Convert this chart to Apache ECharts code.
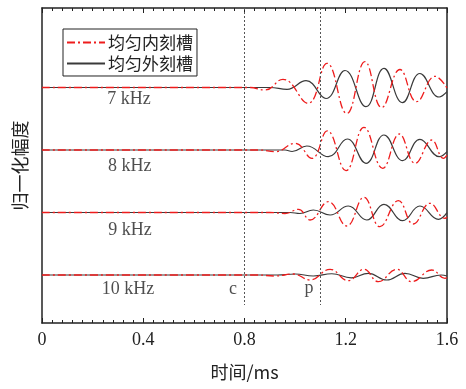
<!DOCTYPE html>
<html><head><meta charset="utf-8">
<script src="https://cdn.jsdelivr.net/npm/echarts@6/dist/echarts.min.js"></script>
<style>html,body{margin:0;padding:0;background:#fff}#c{width:466px;height:389px}</style>
</head><body><div id="c"></div>
<script>
// x-axis range / ticks (ms)
const xMin = 0, xMax = 1.6, xStep = 0.4;
// vertical range (trace spacing = 1 unit)
const yMin = 0.232, yMax = 5.272;
const freqLabels = ['7 kHz', '8 kHz', '9 kHz', '10 kHz'];
const offsets = [4, 3, 2, 1];
const labelPos = [[0.344, 3.816], [0.347, 2.744], [0.348, 1.72], [0.34, 0.776]];
const markerTimes = [0.8, 1.1];
const markerNames = ['c', 'p'];
const markerLabelPos = [[0.755, 0.776], [1.055, 0.78]];
const markerBottom = 0.52;
const seriesNames = ['均匀内刻槽', '均匀外刻槽'];

// [time ms, normalised amplitude]
const inner7 = [[0,0],[0.82,0],[0.881,-0.04],[0.952,0.131],[1.051,-0.253],[1.126,0.387],[1.204,-0.416],[1.276,0.413],[1.342,-0.32],[1.414,0.288],[1.480,-0.227],[1.553,0.179],[1.6,-0.008]];
const outer7 = [[0,0],[0.90,0],[0.968,-0.029],[1.043,0.109],[1.122,-0.176],[1.197,0.272],[1.280,-0.307],[1.351,0.307],[1.424,-0.243],[1.493,0.224],[1.569,-0.152],[1.6,-0.067]];
const inner8 = [[0,0],[0.86,0],[0.921,-0.027],[1.0,0.107],[1.066,-0.133],[1.127,0.307],[1.201,-0.331],[1.272,0.363],[1.346,-0.293],[1.412,0.256],[1.474,-0.213],[1.540,0.16],[1.586,-0.133],[1.6,-0.08]];
const outer8 = [[0,0],[0.96,0],[0.988,-0.024],[1.046,0.064],[1.131,-0.107],[1.206,0.176],[1.280,-0.213],[1.351,0.24],[1.425,-0.171],[1.493,0.171],[1.570,-0.107],[1.6,-0.027]];
const inner9 = [[0,0],[0.90,0],[0.960,-0.016],[1.013,0.051],[1.059,-0.12],[1.131,0.173],[1.204,-0.216],[1.272,0.243],[1.335,-0.227],[1.408,0.189],[1.467,-0.184],[1.533,0.147],[1.592,-0.093],[1.6,-0.072]];
const outer9 = [[0,0],[0.98,0],[1.019,-0.016],[1.072,0.04],[1.138,-0.04],[1.210,0.104],[1.283,-0.12],[1.351,0.131],[1.425,-0.131],[1.493,0.104],[1.566,-0.109],[1.6,-0.003]];
const inner10 = [[0,0],[0.85,0],[0.921,-0.016],[0.993,0.016],[1.059,-0.08],[1.138,0.091],[1.210,-0.091],[1.272,0.091],[1.329,-0.107],[1.401,0.091],[1.461,-0.107],[1.540,0.08],[1.592,-0.053],[1.6,-0.04]];
const outer10 = [[0,0],[0.93,0],[1.0,0.016],[1.072,-0.016],[1.145,0.02],[1.222,-0.045],[1.289,0.027],[1.362,-0.08],[1.434,0.027],[1.506,-0.053],[1.577,0.0],[1.6,-0.016]];

const innerTraces = [inner7, inner8, inner9, inner10];
const outerTraces = [outer7, outer8, outer9, outer10];

const serif = 'Liberation Serif';
const cjk = 'Noto Sans CJK SC';
const redStyle = {color: '#ee1c1c', width: 1.3, type: [8, 3, 2, 3]};
const blackStyle = {color: '#3a3a3a', width: 1.2, type: 'solid'};

const series = [];
offsets.forEach((off, i) => {
  series.push({
    type: 'line', name: seriesNames[1], smooth: 0.45, symbol: 'none', silent: true,
    lineStyle: blackStyle, itemStyle: {color: blackStyle.color},
    data: outerTraces[i].map(([t, a]) => [t, off + a]), z: 2
  });
  series.push({
    type: 'line', name: seriesNames[0], smooth: 0.45, symbol: 'none', silent: true,
    lineStyle: redStyle, itemStyle: {color: redStyle.color},
    data: innerTraces[i].map(([t, a]) => [t, off + a]), z: 3
  });
});
series[0].markLine = {
  silent: true, symbol: 'none', label: {show: false},
  lineStyle: {type: [2, 2], color: '#555', width: 1},
  data: markerTimes.map(t => [{coord: [t, yMax]}, {coord: [t, markerBottom]}])
};
series.push({
  type: 'scatter', name: 'labels', symbolSize: 1, silent: true,
  itemStyle: {color: 'rgba(0,0,0,0)'},
  label: {show: true, position: 'inside', formatter: '{b}', fontFamily: serif, fontSize: 18, color: '#222'},
  data: freqLabels.map((n, i) => ({name: n, value: labelPos[i]}))
    .concat(markerNames.map((n, i) => ({name: n, value: markerLabelPos[i]})))
});

const lineCommon = {show: true, onZero: false, lineStyle: {color: '#222', width: 1.5}};
const tickCommon = {
  axisTick: {show: true, inside: true, length: 5, lineStyle: {color: '#222', width: 1}},
  minorTick: {show: true, splitNumber: 10, length: 3, lineStyle: {color: '#222', width: 1}},
  splitLine: {show: false}, minorSplitLine: {show: false}
};

const chart = echarts.init(document.getElementById('c'), null, {renderer: 'canvas'});
chart.setOption({
  animation: false,
  backgroundColor: '#fff',
  grid: {left: 42, right: 19, top: 8, bottom: 66, show: false, containLabel: false},
  legend: {
    data: seriesNames, orient: 'vertical', left: 63, top: 29,
    itemWidth: 38, itemHeight: 14, itemGap: 4, padding: [5, 4, 4, 3],
    borderColor: '#222', borderWidth: 1,
    itemStyle: {opacity: 0},
    textStyle: {fontFamily: cjk, fontSize: 17, color: '#222', padding: [0, 0, 0, -2]}
  },
  xAxis: [
    Object.assign({
      type: 'value', min: xMin, max: xMax, interval: xStep, position: 'bottom',
      axisLine: lineCommon,
      axisLabel: {fontFamily: serif, fontSize: 18, color: '#222', margin: 8},
      name: '时间/ms', nameLocation: 'middle', nameGap: 40,
      nameTextStyle: {fontFamily: cjk, fontSize: 18, color: '#222'}
    }, tickCommon),
    Object.assign({
      type: 'value', min: xMin, max: xMax, interval: xStep, position: 'top',
      axisLine: lineCommon, axisLabel: {show: false}
    }, tickCommon)
  ],
  yAxis: [{
    type: 'value', min: yMin, max: yMax, position: 'left',
    axisLine: lineCommon, axisTick: {show: false}, axisLabel: {show: false}, splitLine: {show: false},
    name: '归一化幅度', nameLocation: 'middle', nameGap: 13, nameRotate: 90,
    nameTextStyle: {fontFamily: cjk, fontSize: 18, color: '#222'}
  }, {
    type: 'value', min: yMin, max: yMax, position: 'right',
    axisLine: lineCommon, axisTick: {show: false}, axisLabel: {show: false}, splitLine: {show: false}
  }],
  series: series
});
</script></body></html>
